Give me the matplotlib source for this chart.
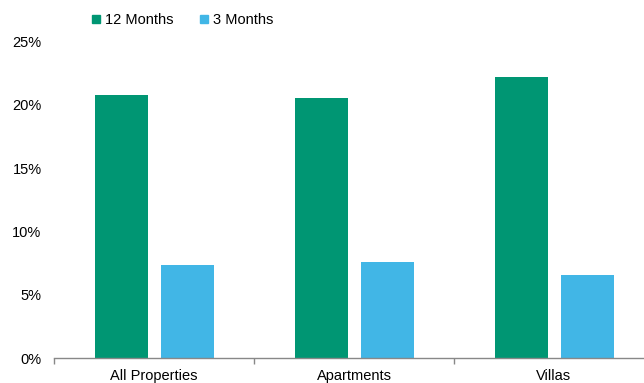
import matplotlib
matplotlib.use("Agg")
import matplotlib.pyplot as plt
from matplotlib.ticker import FixedLocator, FuncFormatter
from matplotlib.lines import Line2D

plt.rcParams['font.family'] = ['Liberation Sans', 'DejaVu Sans']

categories = ["All Properties", "Apartments", "Villas"]
months12 = [20.75, 20.5, 22.2]
months3 = [7.35, 7.55, 6.55]
series_names = ["12 Months", "3 Months"]
colors = ["#009673", "#41B6E6"]

fig = plt.figure(figsize=(6.44, 3.83), dpi=100)
ax = fig.add_axes([54/644, 1-358/383, 1-54/644, (358-41.5)/383])

x = list(range(len(categories)))
w = 0.265
off = 0.165
ax.bar([i - off for i in x], months12, width=w, color=colors[0], label=series_names[0])
ax.bar([i + off for i in x], months3, width=w, color=colors[1], label=series_names[1])

ax.set_xlim(-0.5, 2.45)
ax.set_ylim(0, 25)
ax.set_yticks([0, 5, 10, 15, 20, 25])
ax.yaxis.set_major_formatter(FuncFormatter(lambda v, p: f"{v:.0f}%"))
ax.tick_params(axis='y', length=0, pad=9, labelsize=10.5)

ax.set_xticks(x)
ax.set_xticklabels(categories)
ax.tick_params(axis='x', which='major', length=0, pad=8, labelsize=10.5)
ax.xaxis.set_minor_locator(FixedLocator([-0.5, 0.5, 1.5, 2.5]))
ax.tick_params(axis='x', which='minor', length=4, color='#888888', width=1)

for s in ['top', 'right', 'left']:
    ax.spines[s].set_visible(False)
ax.spines['bottom'].set_color('#888888')
ax.spines['bottom'].set_linewidth(1)

handles = [Line2D([], [], marker='s', linestyle='none', markersize=5.5,
                  markerfacecolor=c, markeredgecolor=c) for c in colors]
fig.legend(handles, series_names, loc='center left', bbox_to_anchor=(89/644, 1-20/383),
           ncol=2, frameon=False, fontsize=10.5, handletextpad=0.1, columnspacing=1.6,
           handlelength=1.0, borderaxespad=0, borderpad=0)

fig.savefig("out.png", dpi=100)
